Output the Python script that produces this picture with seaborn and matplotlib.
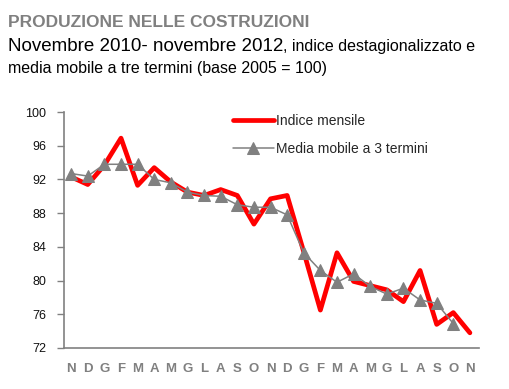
import numpy as np
import pandas as pd
import seaborn as sns
import matplotlib.pyplot as plt

sns.set_style("white")
plt.rcParams['font.family'] = ['Liberation Sans', 'DejaVu Sans']

# Novembre 2010 - novembre 2012
mesi = ["N", "D", "G", "F", "M", "A", "M", "G", "L", "A", "S", "O", "N",
        "D", "G", "F", "M", "A", "M", "G", "L", "A", "S", "O", "N"]
indice_mensile = [92.3, 91.4, 93.7, 96.9, 91.3, 93.4, 91.7, 90.5, 90.1, 90.8,
                  90.1, 86.7, 89.7, 90.1, 83.4, 76.5, 83.3, 79.9, 79.4, 78.9,
                  77.5, 81.2, 74.8, 76.2, 73.8]
media_mobile = [92.7, 92.4, 93.8, 93.8, 93.8, 92.0, 91.6, 90.5, 90.1, 90.0,
                89.0, 88.7, 88.7, 87.8, 83.3, 81.2, 79.8, 80.8, 79.3, 78.4,
                79.1, 77.7, 77.3, 74.9, np.nan]

df = pd.DataFrame({"pos": range(len(mesi)),
                   "Indice mensile": indice_mensile,
                   "Media mobile a 3 termini": media_mobile})

fig = plt.figure(figsize=(5.1, 3.89), dpi=100)
ax = fig.add_axes([0.1255, 0.1054, 0.8135, 0.6066])

sns.lineplot(data=df, x="pos", y="Indice mensile", ax=ax, color="#ff0000",
             linewidth=3.4, label="Indice mensile")
sns.lineplot(data=df, x="pos", y="Media mobile a 3 termini", ax=ax,
             color="#808080", linewidth=1.1, marker="^", markersize=8,
             markeredgecolor="#808080", label="Media mobile a 3 termini")

ax.set_xlim(-0.43, 24.54)
ax.set_ylim(72, 100)
ax.set_yticks(range(72, 101, 4))
ax.set_xticks(range(len(mesi)))
ax.set_xticklabels(mesi, fontsize=9.5, fontweight="bold", color="#808080")
ax.set_xlabel("")
ax.set_ylabel("")
ax.tick_params(axis="y", length=5, width=1, color="#808080", direction="out",
               labelsize=9, labelcolor="#111111", pad=8, left=True)
ax.tick_params(axis="x", length=0, pad=11)
for s in ["top", "right"]:
    ax.spines[s].set_visible(False)
for s in ["left", "bottom"]:
    ax.spines[s].set_color("#808080")
    ax.spines[s].set_linewidth(1.2)

ax.legend(loc="upper left", bbox_to_anchor=(0.376, 1.045), frameon=False,
          fontsize=10, handlelength=3.0, handletextpad=0.15, labelspacing=1.0)

fig.text(8 / 510, 1 - 27 / 389, "PRODUZIONE NELLE COSTRUZIONI", fontsize=12.5,
         fontweight="bold", color="#808080", va="baseline", ha="left")
t1 = fig.text(8 / 510, 1 - 51 / 389, "Novembre 2010- novembre 2012",
              fontsize=13.5, color="black", va="baseline", ha="left")
fig.canvas.draw()
bb = t1.get_window_extent()
fig.text(bb.x1 / fig.bbox.width, 1 - 51 / 389, ", indice destagionalizzato e",
         fontsize=11.5, color="black", va="baseline", ha="left")
fig.text(8 / 510, 1 - 73.5 / 389, "media mobile a tre termini (base 2005 = 100)",
         fontsize=11.5, color="black", va="baseline", ha="left")

fig.savefig("out.png", dpi=100)
